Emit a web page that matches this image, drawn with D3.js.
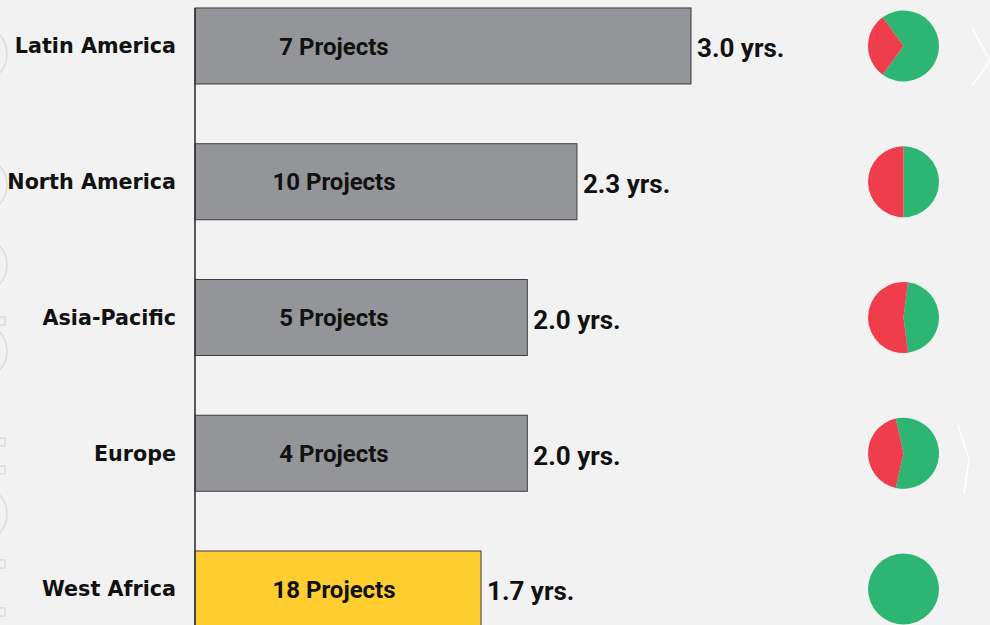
<!DOCTYPE html>
<html>
<head>
<meta charset="utf-8">
<script src="https://cdn.jsdelivr.net/npm/d3@7"></script>
<style>
  html, body { margin: 0; padding: 0; background: #f2f2f2; }
  svg { display: block; }
</style>
</head>
<body>
<svg id="chart" width="990" height="625"></svg>
<script>
// ---- data ----
const regions = ["Latin America", "North America", "Asia-Pacific", "Europe", "West Africa"];
const years = [3.0, 2.31, 2.01, 2.01, 1.73];
const yearLabels = ["3.0 yrs.", "2.3 yrs.", "2.0 yrs.", "2.0 yrs.", "1.7 yrs."];
const projects = [7, 10, 5, 4, 18];
const greenShare = [0.70, 0.50, 0.46, 0.57, 1.00];
const redShare = [0.30, 0.50, 0.54, 0.43, 0.00];
const highlight = "West Africa";

// ---- layout ----
const W = 990, H = 625;
const svg = d3.select("#chart");
const bg = "#f2f2f2";
svg.append("rect").attr("width", W).attr("height", H).attr("fill", bg);

// faint background decorations
const deco = svg.append("g");
[54, 185, 265, 351, 514].forEach(cy => {
  deco.append("circle").attr("cx", -21).attr("cy", cy).attr("r", 28)
    .attr("fill", "none").attr("stroke", "#dcdcdc").attr("stroke-width", 1.5);
});
[317, 438, 466, 560, 608].forEach(y => {
  deco.append("rect").attr("x", -4).attr("y", y).attr("width", 9).attr("height", 8)
    .attr("fill", "none").attr("stroke", "#dcdcdc").attr("stroke-width", 1.5);
});
deco.append("polyline").attr("points", "972,28 990,61 972,86")
  .attr("fill", "none").attr("stroke", "#ffffff").attr("stroke-width", 1.5);
deco.append("polyline").attr("points", "958,425 969,459 964,494")
  .attr("fill", "none").attr("stroke", "#ffffff").attr("stroke-width", 1.5);

const x = d3.scaleLinear().domain([0, 3]).range([195, 691]);
const y = d3.scaleBand().domain(regions).range([-21.9, 656.9])
  .paddingInner(0.44).paddingOuter(0.22);

const rows = regions.map((r, i) => ({
  region: r, years: years[i], label: yearLabels[i], projects: projects[i],
  green: greenShare[i], red: redShare[i]
}));

// bars
svg.append("g").selectAll("rect").data(rows).join("rect")
  .attr("x", x(0))
  .attr("y", d => y(d.region))
  .attr("width", d => x(d.years) - x(0))
  .attr("height", y.bandwidth())
  .attr("fill", d => d.region === highlight ? "#fecd30" : "#939598")
  .attr("stroke", "#3d3d3d")
  .attr("stroke-width", 1);

// axis line (category axis)
const yAxis = d3.axisLeft(y).tickSize(0).tickPadding(19);
const ag = svg.append("g").attr("transform", `translate(${x(0)},0)`).call(yAxis);
ag.select(".domain").attr("stroke", "#333").attr("stroke-width", 1.6)
  .attr("d", `M0,${y(regions[0])}V${H}`);
ag.selectAll(".tick text")
  .attr("fill", "#111")
  .attr("font-family", "'DejaVu Sans', sans-serif")
  .attr("font-weight", "bold")
  .attr("font-size", 20.7)
  .attr("dy", "0.35em");

// project labels inside bars
svg.append("g").selectAll("text").data(rows).join("text")
  .attr("x", x(0) + 139)
  .attr("y", d => y(d.region) + y.bandwidth() / 2)
  .attr("dy", "0.36em")
  .attr("text-anchor", "middle")
  .attr("font-family", "Roboto, sans-serif")
  .attr("font-weight", "bold")
  .attr("font-size", 24)
  .attr("fill", "#111")
  .text(d => `${d.projects} Projects`);

// value labels
svg.append("g").selectAll("text").data(rows).join("text")
  .attr("x", d => x(d.years) + 6)
  .attr("y", d => y(d.region) + y.bandwidth() / 2 + 2)
  .attr("dy", "0.36em")
  .attr("font-family", "Roboto, sans-serif")
  .attr("font-weight", "bold")
  .attr("font-size", 26)
  .attr("fill", "#111")
  .text(d => d.label);

// pies
const pieX = 903.5, pieR = 35.5;
const arc = d3.arc().innerRadius(0).outerRadius(pieR);
rows.forEach(d => {
  const start = Math.PI / 2 - d.green * Math.PI;
  const pie = d3.pie().sort(null).value(v => v.v)
    .startAngle(start).endAngle(start + 2 * Math.PI);
  const slices = pie([{k: "g", v: d.green}, {k: "r", v: d.red}]);
  svg.append("g")
    .attr("transform", `translate(${pieX},${y(d.region) + y.bandwidth() / 2})`)
    .selectAll("path").data(slices).join("path")
    .attr("d", arc)
    .attr("fill", s => s.data.k === "g" ? "#2db673" : "#ef3d4b")
    .attr("stroke", "none");
});
</script>
</body>
</html>
